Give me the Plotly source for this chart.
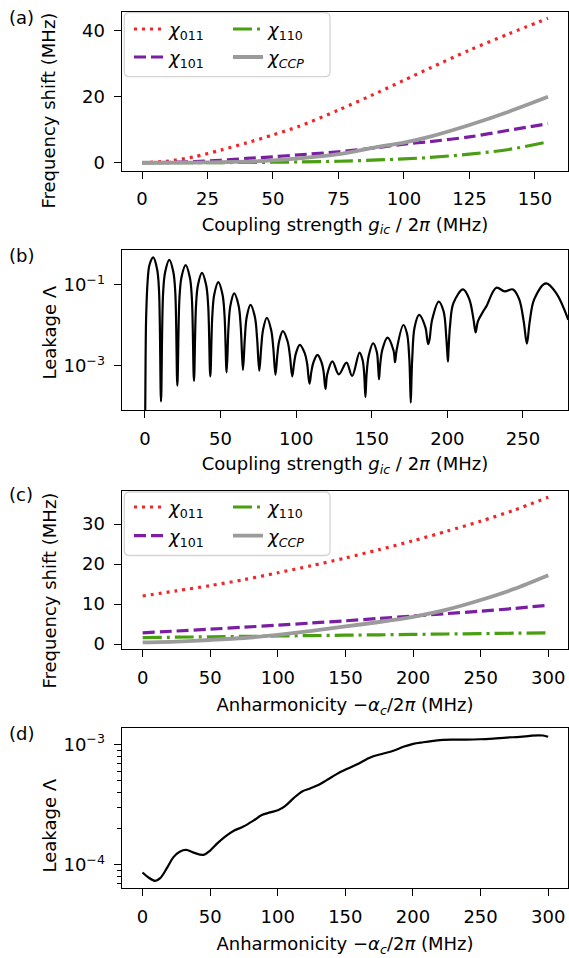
import plotly.graph_objects as go

FIG_W, FIG_H = 569, 958

# ---------------- (a) frequency shifts vs coupling strength ----------------
g_a = [0, 10, 20, 30, 40, 50, 60, 75, 90, 100, 110, 125, 140, 155]
chi011_a = [0, 0.5, 1.8, 3.8, 6.0, 8.4, 11.0, 15.9, 21.2, 24.9, 28.6, 34.0, 38.9, 43.6]
chi101_a = [0, 0.1, 0.35, 0.75, 1.3, 1.8, 2.4, 3.3, 4.6, 5.6, 6.4, 7.8, 9.8, 11.8]
chi110_a = [0, 0.0, 0.02, 0.05, 0.1, 0.15, 0.25, 0.45, 0.85, 1.15, 1.6, 2.6, 4.0, 6.3]
chiccp_a = [0, 0.0, 0.05, 0.15, 0.35, 0.7, 1.3, 2.6, 4.8, 6.1, 7.9, 11.4, 15.4, 19.9]

# ---------------- (b) leakage vs coupling strength (log10 of leakage) ----------------
g_b = [0.0, 0.4, 0.8, 1.8, 3.0, 5.5, 8.05, 9.3, 10.6, 11.98, 13.35, 16.1, 18.75, 20.08,
       21.4, 22.78, 24.15, 26.9, 29.65, 31.03, 32.4, 33.73, 35.05, 37.7, 40.45, 41.83,
       43.2, 44.53, 45.85, 48.5, 51.25, 52.63, 54.0, 55.25, 56.5, 59.0, 61.9, 63.35,
       64.8, 66.05, 67.3, 69.8, 72.7, 74.15, 75.6, 76.85, 78.1, 80.6, 83.45, 84.88,
       86.3, 87.53, 88.75, 91.2, 94.3, 95.85, 97.4, 98.65, 99.9, 102.4, 105.6, 107.2,
       108.8, 110.1, 111.45, 114.1, 116.75, 118.1, 119.4, 120.6, 124.0, 128.2, 133.3,
       137.0, 141.9, 143.9, 145.0, 145.8, 146.6, 148.0, 150.9, 153.3, 154.2, 154.8,
       155.5, 157.0, 160.4, 164.4, 165.4, 166.4, 170.9, 173.3, 174.8, 175.3, 175.8,
       176.3, 176.8, 178.3, 181.3, 185.5, 186.7, 187.4, 188.2, 190.0, 194.3, 197.5,
       199.3, 200.0, 200.4, 200.8, 201.8, 204.0, 210.4, 214.5, 217.3, 218.7, 220.2,
       223.6, 225.8, 232.4, 237.9, 243.4, 247.5, 250.5, 252.6, 254.5, 257.5, 265.2,
       272.0, 280.0]
log_leak_b = [-5.0, -2.8, -1.75, -0.88, -0.50, -0.32, -0.62, -1.15, -3.88, -1.21, -0.68,
              -0.38, -0.68, -1.21, -3.49, -1.34, -0.81, -0.51, -0.81, -1.34, -3.37, -1.53,
              -1.00, -0.70, -1.00, -1.53, -3.26, -1.76, -1.23, -0.93, -1.23, -1.76, -3.16,
              -2.04, -1.51, -1.21, -1.51, -2.04, -3.10, -2.32, -1.79, -1.49, -1.79, -2.32,
              -3.12, -2.56, -2.11, -1.81, -2.11, -2.56, -3.22, -2.74, -2.39, -2.14, -2.39,
              -2.74, -3.26, -2.93, -2.68, -2.48, -2.68, -2.93, -3.44, -3.13, -2.91, -2.73,
              -2.91, -3.13, -3.57, -3.20, -2.89, -3.21, -2.92, -3.25, -2.67, -2.85, -3.20,
              -3.77, -3.20, -2.75, -2.44, -2.65, -3.00, -3.33, -3.00, -2.60, -2.30, -2.62,
              -2.91, -2.62, -1.99, -2.20, -2.80, -3.30, -3.91, -3.30, -2.80, -2.05, -1.74,
              -2.05, -2.35, -2.46, -2.35, -1.85, -1.41, -1.65, -2.30, -2.70, -2.89, -2.60,
              -2.00, -1.45, -1.11, -1.35, -1.85, -2.17, -1.90, -1.66, -1.53, -1.07, -1.16,
              -1.11, -1.35, -1.90, -2.45, -1.90, -1.35, -0.96, -1.20, -1.86]
leak_b = [10 ** v for v in log_leak_b]

# ---------------- (c) frequency shifts vs coupler anharmonicity ----------------
alpha_c = [0, 25, 50, 75, 100, 125, 150, 175, 200, 225, 250, 275, 300]
chi011_c = [12.0, 13.3, 14.6, 16.1, 17.8, 19.6, 21.5, 23.6, 25.8, 28.2, 30.7, 33.5, 36.7]
chi101_c = [2.8, 3.25, 3.7, 4.2, 4.7, 5.25, 5.8, 6.4, 7.0, 7.6, 8.2, 8.9, 9.7]
chi110_c = [1.6, 1.7, 1.8, 1.9, 2.0, 2.1, 2.2, 2.3, 2.4, 2.5, 2.6, 2.7, 2.8]
chiccp_c = [0.4, 0.6, 1.0, 1.5, 2.3, 3.3, 4.4, 5.5, 6.8, 8.6, 11.0, 13.8, 17.2]

# ---------------- (d) leakage vs coupler anharmonicity (log10 of leakage) ----------------
alpha_d = [0, 4.4, 9.4, 13.1, 18.0, 22.9, 27.8, 32.3, 37.7, 45.1, 50.0, 54.9, 61.1, 67.2,
           74.6, 82.0, 88.2, 94.3, 100.5, 105.4, 111.6, 117.7, 123.9, 130.0, 136.2, 143.6,
           151.0, 158.4, 165.8, 170.7, 178.1, 185.5, 192.9, 200.2, 207.6, 215.0, 222.4,
           229.8, 239.7, 249.5, 259.4, 269.2, 279.1, 286.5, 292.6, 296.3, 300.0]
log_leak_d = [-4.064, -4.105, -4.133, -4.110, -4.028, -3.936, -3.889, -3.876, -3.898,
              -3.917, -3.881, -3.826, -3.765, -3.718, -3.682, -3.633, -3.586, -3.564,
              -3.544, -3.511, -3.448, -3.392, -3.365, -3.337, -3.296, -3.246, -3.204,
              -3.166, -3.122, -3.097, -3.075, -3.052, -3.019, -2.994, -2.981, -2.970,
              -2.961, -2.959, -2.959, -2.956, -2.950, -2.942, -2.936, -2.928, -2.923,
              -2.925, -2.935]
leak_d = [10 ** v for v in log_leak_d]

# ---------------- styling ----------------
FONT = "DejaVu Sans"
RED, PURPLE, GREEN, GRAY = "#f0262b", "#7b1fa2", "#4a9e12", "#9b9b9b"
LW = 3.2
series_style = {
    "011": dict(color=RED, width=LW, dash="3px,5px"),
    "101": dict(color=PURPLE, width=LW, dash="12px,5px"),
    "110": dict(color=GREEN, width=LW, dash="19px,5px,3px,5px"),
    "ccp": dict(color=GRAY, width=3.8),
}
names = {
    "011": "<i>χ</i><sub>011</sub>",
    "101": "<i>χ</i><sub>101</sub>",
    "110": "<i>χ</i><sub>110</sub>",
    "ccp": "<i>χ</i><sub><i>CCP</i></sub>",
}


def px_x(px):
    return px / FIG_W


def px_y(py):
    return 1 - py / FIG_H


# axes boxes in pixels (left, right, top, bottom)
boxes = {
    1: (121.7, 568.3, 11.7, 170.7),
    2: (121.7, 568.3, 250.0, 410.0),
    3: (121.7, 568.3, 491.0, 649.0),
    4: (121.7, 568.3, 728.3, 888.3),
}

fig = go.Figure()

# one legend per entry so the 2x2 legend grid can be laid out exactly
legend_slots = {}


def add_shift_panel(k, xs, c011, c101, c110, cccp, first_legend, row1, row2):
    ax = "" if k == 1 else str(k)
    order = (("011", c011, 129, row1), ("101", c101, 129, row2),
             ("110", c110, 228, row1), ("ccp", cccp, 228, row2))
    for i, (key, ys, lx, ly) in enumerate(order):
        leg_id = "legend" if first_legend + i == 1 else f"legend{first_legend + i}"
        legend_slots[leg_id] = (lx, ly)
        fig.add_trace(go.Scatter(
            x=xs, y=ys, mode="lines", name=names[key],
            line=dict(shape="spline", smoothing=0.8, **series_style[key]),
            xaxis="x" + ax, yaxis="y" + ax, legend=leg_id, showlegend=True,
        ))


add_shift_panel(1, g_a, chi011_a, chi101_a, chi110_a, chiccp_a, 1, 29.3, 57.3)
fig.add_trace(go.Scatter(x=g_b, y=leak_b, mode="lines", showlegend=False,
                         line=dict(color="black", width=2.2, shape="spline", smoothing=1.0),
                         xaxis="x2", yaxis="y2"))
add_shift_panel(3, alpha_c, chi011_c, chi101_c, chi110_c, chiccp_c, 5, 507.3, 536.0)
fig.add_trace(go.Scatter(x=alpha_d, y=leak_d, mode="lines", showlegend=False,
                         line=dict(color="black", width=2.2, shape="spline", smoothing=1.0),
                         xaxis="x4", yaxis="y4"))

tick_font = dict(family=FONT, size=18, color="black")
title_font = dict(family=FONT, size=18, color="black")


def axis_common(**kw):
    d = dict(showline=True, linecolor="black", linewidth=1.3, mirror=True,
             ticks="outside", ticklen=7, tickwidth=1.3, tickcolor="black",
             showgrid=False, zeroline=False, tickfont=tick_font, title_font=title_font,
             automargin=False, ticklabelstandoff=5)
    d.update(kw)
    return d


xlab_g = "Coupling strength <i>g<sub>ic</sub></i> / 2<i>π</i> (MHz)"
xlab_a = "Anharmonicity −<i>α<sub>c</sub></i>/2<i>π</i> (MHz)"

layout_axes = {}
for k, (l, r, t, b) in boxes.items():
    ax = "" if k == 1 else str(k)
    layout_axes["xaxis" + ax] = dict(domain=[px_x(l), px_x(r)], anchor="y" + ax)
    layout_axes["yaxis" + ax] = dict(domain=[px_y(b), px_y(t)], anchor="x" + ax)

layout_axes["xaxis"].update(axis_common(range=[-7.75, 162.75], tickvals=[0, 25, 50, 75, 100, 125, 150],
                                        title=dict(text=xlab_g, standoff=9)))
layout_axes["yaxis"].update(axis_common(range=[-2.4, 45.6], tickvals=[0, 20, 40]))
layout_axes["xaxis2"].update(axis_common(range=[-15.4, 280], tickvals=[0, 50, 100, 150, 200, 250],
                                         title=dict(text=xlab_g, standoff=9)))
layout_axes["yaxis2"].update(axis_common(type="log", range=[-4.09, -0.136], tickvals=[1e-3, 1e-1],
                                         ticktext=["10<sup>−3</sup>", "10<sup>−1</sup>"]))
layout_axes["xaxis3"].update(axis_common(range=[-15.5, 314.8], tickvals=[0, 50, 100, 150, 200, 250, 300],
                                         title=dict(text=xlab_a, standoff=11)))
layout_axes["yaxis3"].update(axis_common(range=[-1.25, 38.25], tickvals=[0, 10, 20, 30]))
layout_axes["xaxis4"].update(axis_common(range=[-15.4, 314.9], tickvals=[0, 50, 100, 150, 200, 250, 300],
                                         title=dict(text=xlab_a, standoff=11)))
layout_axes["yaxis4"].update(axis_common(
    type="log", range=[-4.195, -2.865], tickvals=[1e-4, 1e-3],
    ticktext=["10<sup>−4</sup>", "10<sup>−3</sup>"],
    minor=dict(ticks="outside", ticklen=4, tickwidth=1.0, tickcolor="black",
               tickvals=[7e-5, 8e-5, 9e-5, 2e-4, 3e-4, 4e-4, 5e-4, 6e-4, 7e-4, 8e-4, 9e-4])))


def rounded_box(l, t, r, b, rad=5):
    pts = [
        f"M {px_x(l + rad)},{px_y(t)}",
        f"L {px_x(r - rad)},{px_y(t)}",
        f"Q {px_x(r)},{px_y(t)} {px_x(r)},{px_y(t + rad)}",
        f"L {px_x(r)},{px_y(b - rad)}",
        f"Q {px_x(r)},{px_y(b)} {px_x(r - rad)},{px_y(b)}",
        f"L {px_x(l + rad)},{px_y(b)}",
        f"Q {px_x(l)},{px_y(b)} {px_x(l)},{px_y(b - rad)}",
        f"L {px_x(l)},{px_y(t + rad)}",
        f"Q {px_x(l)},{px_y(t)} {px_x(l + rad)},{px_y(t)}",
        "Z",
    ]
    return dict(type="path", xref="paper", yref="paper", path=" ".join(pts),
                line=dict(color="#d4d4d4", width=1.3), fillcolor="rgba(255,255,255,0.8)",
                layer="above")


shapes = [rounded_box(124.3, 12.7, 330, 76.7), rounded_box(124.3, 492, 330, 555.5)]


def legend_at(px, py):
    return dict(x=px_x(px), y=px_y(py), xanchor="left", yanchor="middle",
                bgcolor="rgba(0,0,0,0)", borderwidth=0,
                font=dict(family=FONT, size=18, color="black"), tracegroupgap=0)


annotations = []
for text, cy in (("(a)", 17.5), ("(b)", 255.5), ("(c)", 494.0), ("(d)", 733.5)):
    annotations.append(dict(text=text, x=px_x(7), y=px_y(cy), xref="paper", yref="paper",
                            xanchor="left", yanchor="middle", showarrow=False,
                            font=dict(family=FONT, size=18, color="black")))

# y-axis titles
for text, cy in (("Frequency shift (MHz)", 111.0), ("Leakage Λ", 333.0),
                 ("Frequency shift (MHz)", 591.0), ("Leakage Λ", 826.0)):
    annotations.append(dict(text=text, x=px_x(48.5), y=px_y(cy), xref="paper", yref="paper",
                            xanchor="center", yanchor="middle", textangle=-90, showarrow=False,
                            font=dict(family=FONT, size=18, color="black")))

legends = {k: legend_at(*v) for k, v in legend_slots.items()}

fig.update_layout(
    width=FIG_W, height=FIG_H, autosize=False,
    margin=dict(l=0, r=0, t=0, b=0),
    paper_bgcolor="white", plot_bgcolor="white",
    font=dict(family=FONT, color="black"),
    shapes=shapes, annotations=annotations,
    **legends,
    **layout_axes,
)

fig.write_html("out.html")
